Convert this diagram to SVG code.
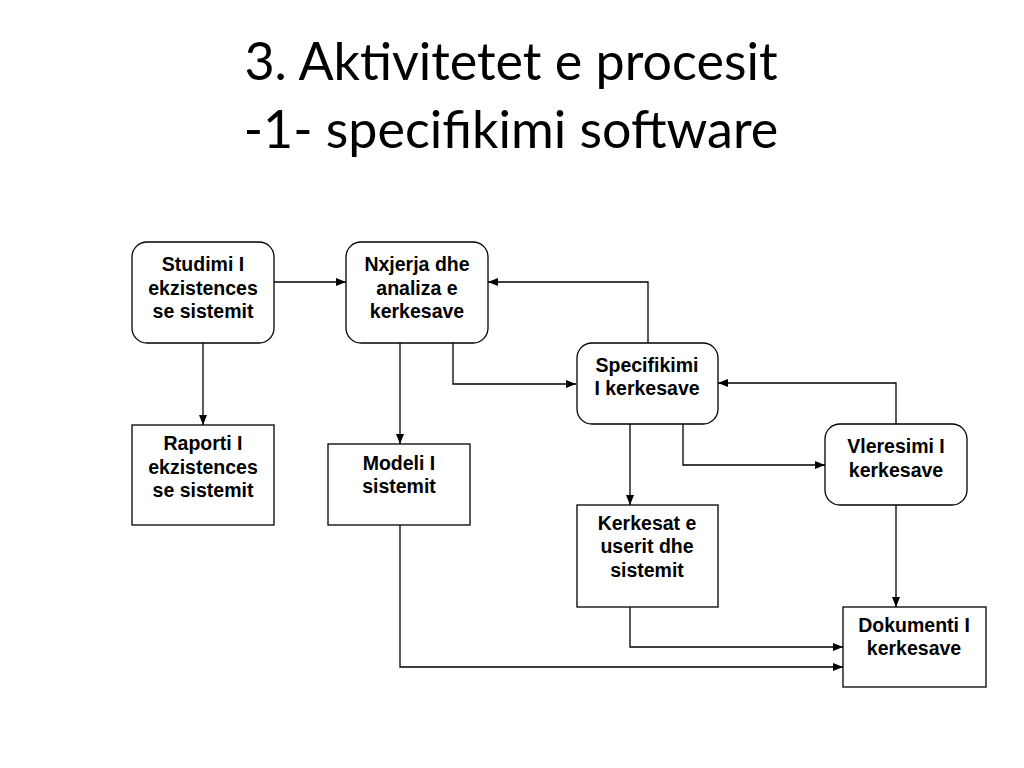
<svg xmlns="http://www.w3.org/2000/svg" width="1024" height="768" viewBox="0 0 1024 768">
<style>
.title{font-family:"Lato","Open Sans","Liberation Sans",sans-serif;font-size:52px;fill:#000;text-anchor:middle}
.box{fill:#fff;stroke:#000;stroke-width:1.3}
.lbl{font-family:"Liberation Sans",Arial,sans-serif;font-weight:bold;font-size:19.5px;fill:#000;text-anchor:middle}
.ln{fill:none;stroke:#000;stroke-width:1.3;marker-end:url(#ah)}
</style>
<defs>
<marker id="ah" viewBox="0 0 10 8" refX="10" refY="4" markerWidth="10" markerHeight="8" markerUnits="userSpaceOnUse" orient="auto">
<path d="M0,0 L10,4 L0,8 Z" fill="#000"/>
</marker>
</defs>
<rect width="1024" height="768" fill="#fff"/>
<g id="title">
<text class="title" x="511" y="80">3. Aktivitetet e procesit</text>
<text class="title" x="511" y="148">-1- specifikimi software</text>
</g>
<g id="connectors">
<path class="ln" d="M274,282 H346"/>
<path class="ln" d="M203,343 V425"/>
<path class="ln" d="M400,343 V444"/>
<path class="ln" d="M453,343 V384 H576"/>
<path class="ln" d="M648,343 V282 H488"/>
<path class="ln" d="M896,424 V383 H718"/>
<path class="ln" d="M630,424 V505"/>
<path class="ln" d="M683,424 V465 H825"/>
<path class="ln" d="M896,505 V607"/>
<path class="ln" d="M630,607 V647 H843"/>
<path class="ln" d="M400,525 V667 H843"/>
</g>
<g id="studimi">
<rect class="box" x="132" y="242" width="142" height="101" rx="15"/>
<text class="lbl" x="203" y="271">Studimi I</text>
<text class="lbl" x="203" y="295">ekzistences</text>
<text class="lbl" x="203" y="318">se sistemit</text>
</g>
<g id="nxjerja">
<rect class="box" x="346" y="242" width="142" height="101" rx="15"/>
<text class="lbl" x="417" y="271">Nxjerja dhe</text>
<text class="lbl" x="417" y="295">analiza e</text>
<text class="lbl" x="417" y="318">kerkesave</text>
</g>
<g id="raporti">
<rect class="box" x="132" y="425" width="142" height="100"/>
<text class="lbl" x="203" y="450">Raporti I</text>
<text class="lbl" x="203" y="474">ekzistences</text>
<text class="lbl" x="203" y="497">se sistemit</text>
</g>
<g id="modeli">
<rect class="box" x="328" y="444" width="142" height="81"/>
<text class="lbl" x="399" y="470">Modeli I</text>
<text class="lbl" x="399" y="493">sistemit</text>
</g>
<g id="specifikimi">
<rect class="box" x="577" y="343" width="141" height="81" rx="15"/>
<text class="lbl" x="647" y="372">Specifikimi</text>
<text class="lbl" x="647" y="395">I kerkesave</text>
</g>
<g id="vleresimi">
<rect class="box" x="825" y="424" width="142" height="81" rx="15"/>
<text class="lbl" x="896" y="453">Vleresimi I</text>
<text class="lbl" x="896" y="477">kerkesave</text>
</g>
<g id="kerkesat">
<rect class="box" x="577" y="505" width="141" height="102"/>
<text class="lbl" x="647" y="530">Kerkesat e</text>
<text class="lbl" x="647" y="553">userit dhe</text>
<text class="lbl" x="647" y="577">sistemit</text>
</g>
<g id="dokumenti">
<rect class="box" x="843" y="607" width="143" height="80"/>
<text class="lbl" x="914" y="632">Dokumenti I</text>
<text class="lbl" x="914" y="655">kerkesave</text>
</g>
</svg>
